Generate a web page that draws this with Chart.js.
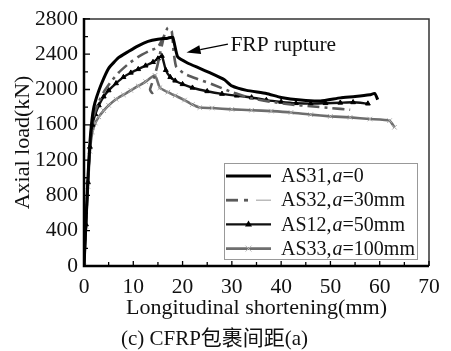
<!DOCTYPE html>
<html><head><meta charset="utf-8">
<script src="https://cdn.jsdelivr.net/npm/chart.js@4.4.0/dist/chart.umd.min.js"></script>
<style>html,body{margin:0;padding:0;background:#fff;}#wrap{width:451px;height:351px;}</style>
</head><body><div id="wrap"><canvas id="c" width="451" height="351"></canvas></div>
<script>
// ---- data ----
const xMajorTicks = [0,10,20,30,40,50,60,70];
const xMinorTicks = [5,15,25,35,45,55,65];
const yMajorTicks = [0,400,800,1200,1600,2000,2400,2800];
const yMinorTicks = [200,600,1000,1400,1800,2200,2600];

const as31X = [0,0.4,0.8,1.2,1.6,2.0,2.6,3.5,5,7,9,11,13,15,17,18,19,21,23.5,25.5,28.5,30,33,37,40,44,48,52,55,58,59,59.6];
const as31Y = [0,500,1000,1400,1650,1800,1920,2060,2240,2360,2430,2495,2545,2570,2582,2592,2370,2300,2240,2190,2110,2040,1990,1955,1910,1880,1870,1905,1920,1940,1955,1885];

const as32X = [0,0.4,0.8,1.2,1.7,2.3,3,4,5.5,7,9,11,13,15,16.2,17,17.8,18.2,18.7,20.3,23,26,30,34,38,42,46,50,54, null,16.3,15.6,14.8,14,13.4,13.8,14.8];
const as32Y = [0,480,980,1380,1640,1760,1860,1970,2090,2190,2290,2370,2430,2480,2600,2700,2660,2420,2260,2180,2120,2060,1970,1900,1860,1830,1810,1790,1770, null,2620,2450,2250,2100,2000,1960,1990];

const as12X = [0,0.4,0.8,1.2,1.7,2.3,3,4,5,6.5,8,9.5,11,12.5,14,15,15.8,16.6,17.5,18.5,20,22,25,28,31,34,37,40,43,46,49,52,54.6,57.6];
const as12Y = [0,470,950,1350,1600,1720,1820,1920,1990,2070,2140,2190,2230,2270,2310,2350,2380,2220,2140,2100,2060,2020,1980,1950,1930,1910,1880,1860,1845,1840,1845,1850,1855,1840];

const as33X = [0,0.4,0.8,1.2,1.7,2.3,3,4,5,6.5,8,9.5,11,12.5,14.4,15.4,17,18.5,20.4,22,23.5,26,30,34,38,42,46,50,54,58,62,63];
const as33Y = [0,450,900,1300,1520,1620,1690,1760,1820,1890,1940,1990,2040,2090,2160,2020,1970,1930,1880,1830,1795,1790,1775,1765,1755,1740,1715,1695,1684,1665,1647,1572];

const seriesLabels = ['AS31,a=0','AS32,a=30mm','AS12,a=50mm','AS33,a=100mm'];
const annotationText = 'FRP rupture';
const arrowTip = [20.8, 2420];
const arrowTail = [29.2, 2515];
const annotationAnchor = [29.7, 2432];

const FONT = '"Liberation Serif","Times New Roman","Noto Sans CJK SC",serif';

function pts(xs, ys){ return xs.map((x,i)=> (x===null ? {x: NaN, y: null} : {x:x, y:ys[i]})); }

const framePlugin = {
  id:'frame',
  afterDatasetsDraw(chart){
    const {ctx, chartArea:a, scales:{x, y}} = chart;
    ctx.save();
    ctx.strokeStyle = '#333'; ctx.lineWidth = 1.5;
    ctx.beginPath(); ctx.moveTo(a.left, a.top); ctx.lineTo(a.right, a.top); ctx.lineTo(a.right, a.bottom); ctx.stroke();
    ctx.strokeStyle = '#000'; ctx.lineWidth = 2.5;
    ctx.beginPath(); ctx.moveTo(a.left, a.top-1); ctx.lineTo(a.left, a.bottom); ctx.lineTo(a.right, a.bottom); ctx.stroke();
    ctx.lineWidth = 1.3;
    ctx.beginPath();
    xMajorTicks.forEach(v=>{const p=x.getPixelForValue(v); ctx.moveTo(p,a.bottom); ctx.lineTo(p,a.bottom-5);});
    xMinorTicks.forEach(v=>{const p=x.getPixelForValue(v); ctx.moveTo(p,a.bottom); ctx.lineTo(p,a.bottom-4);});
    yMajorTicks.forEach(v=>{const p=y.getPixelForValue(v); ctx.moveTo(a.left,p); ctx.lineTo(a.left+6,p);});
    yMinorTicks.forEach(v=>{const p=y.getPixelForValue(v); ctx.moveTo(a.left,p); ctx.lineTo(a.left+4,p);});
    ctx.stroke();

    // annotation arrow
    const tx = x.getPixelForValue(arrowTip[0]), ty = y.getPixelForValue(arrowTip[1]);
    const sx = x.getPixelForValue(arrowTail[0]), sy = y.getPixelForValue(arrowTail[1]);
    const ang = Math.atan2(ty-sy, tx-sx);
    const hl = 14, hw = 4.5;
    const bx = tx - hl*Math.cos(ang), by = ty - hl*Math.sin(ang);
    ctx.strokeStyle='#000'; ctx.lineWidth=1.3;
    ctx.beginPath(); ctx.moveTo(sx,sy); ctx.lineTo(bx,by); ctx.stroke();
    ctx.fillStyle='#000';
    ctx.beginPath(); ctx.moveTo(tx,ty);
    ctx.lineTo(bx + hw*Math.sin(ang), by - hw*Math.cos(ang));
    ctx.lineTo(bx - hw*Math.sin(ang), by + hw*Math.cos(ang));
    ctx.closePath(); ctx.fill();
    ctx.font = '21.5px ' + FONT; ctx.fillStyle='#111'; ctx.textBaseline='alphabetic'; ctx.textAlign='left';
    ctx.fillText(annotationText, x.getPixelForValue(annotationAnchor[0]), y.getPixelForValue(annotationAnchor[1]));

    // legend
    const L = a.right - 205, T = a.bottom - 103, W = 193, H = 96;
    ctx.fillStyle='#fff'; ctx.fillRect(L,T,W,H);
    ctx.strokeStyle='#999'; ctx.lineWidth=1; ctx.strokeRect(L+0.5,T+0.5,W,H);
    const rowH = 24.2;
    chart.data.datasets.forEach((ds,i)=>{
      const cy = T + 13 + i*rowH;
      const x0 = L+2, x1 = L+47;
      ctx.save();
      ctx.strokeStyle = ds.borderColor; ctx.lineWidth = ds.borderWidth;
      if (i===1){
        ctx.lineWidth = 2.8;
        ctx.beginPath(); ctx.moveTo(x0,cy); ctx.lineTo(x0+12,cy); ctx.stroke();
        ctx.beginPath(); ctx.moveTo(x0+18,cy); ctx.lineTo(x0+22,cy); ctx.stroke();
        ctx.strokeStyle='#aaa'; ctx.lineWidth=1.2;
        ctx.beginPath(); ctx.moveTo(x0+30,cy); ctx.lineTo(x1,cy); ctx.stroke();
      } else {
        ctx.beginPath(); ctx.moveTo(x0,cy); ctx.lineTo(x1,cy); ctx.stroke();
      }
      const mx = (x0+x1)/2;
      if (i===2){
        ctx.fillStyle='#000'; ctx.beginPath(); ctx.moveTo(mx,cy-4); ctx.lineTo(mx+3.5,cy+2); ctx.lineTo(mx-3.5,cy+2); ctx.closePath(); ctx.fill();
      }
      if (i===3){
        ctx.strokeStyle='#bbb'; ctx.lineWidth=1; ctx.beginPath();
        ctx.moveTo(mx-3,cy-3); ctx.lineTo(mx+3,cy+3); ctx.moveTo(mx-3,cy+3); ctx.lineTo(mx+3,cy-3); ctx.stroke();
      }
      ctx.restore();
      const lab = ds.label; const k = lab.indexOf(',a');
      const p1 = lab.slice(0,k+1), p2 = 'a', p3 = lab.slice(k+2);
      let tx0 = L + 57;
      ctx.fillStyle='#111'; ctx.textBaseline='middle'; ctx.textAlign='left';
      ctx.font = '20px ' + FONT; ctx.fillText(p1, tx0, cy+1); tx0 += ctx.measureText(p1).width + 1;
      ctx.font = 'italic 20px ' + FONT; ctx.fillText(p2, tx0, cy+1); tx0 += ctx.measureText(p2).width;
      ctx.font = '20px ' + FONT; ctx.fillText(p3, tx0, cy+1);
    });
    ctx.restore();
  }
};

new Chart(document.getElementById('c'), {
  type:'line',
  data:{
    datasets:[
      {label:seriesLabels[0], data:pts(as31X,as31Y), borderColor:'#000', borderWidth:3, pointRadius:0, tension:0.15},
      {label:seriesLabels[1], data:pts(as32X,as32Y), borderColor:'#5a5a5a', borderWidth:2.6, borderDash:[12,5,3,5], pointRadius:0, tension:0.15},
      {label:seriesLabels[2], data:pts(as12X,as12Y), borderColor:'#111', borderWidth:2.4, pointStyle:'triangle', pointRadius:2.8, pointBackgroundColor:'#000', pointBorderColor:'#000', pointBorderWidth:1, tension:0.15},
      {label:seriesLabels[3], data:pts(as33X,as33Y), borderColor:'#6e6e6e', borderWidth:2.6, pointStyle:'crossRot', pointRadius:3.2, pointBorderColor:'#aaa', pointBorderWidth:1, tension:0.15}
    ]
  },
  options:{
    responsive:false, animation:false, devicePixelRatio:1,
    spanGaps:false,
    layout:{padding:{top:15, right:22, left:0, bottom:0}},
    plugins:{
      legend:{display:false}, tooltip:{enabled:false},
      title:{display:true, position:'bottom', text:'(c) CFRP包裹间距(a)', color:'#111',
        font:{family:FONT, size:21, weight:'normal'}, padding:{top:0, bottom:-1}}
    },
    scales:{
      x:{type:'linear', min:0, max:70,
        ticks:{stepSize:10, color:'#111', padding:8, font:{family:FONT, size:21.5}, maxRotation:0, callback:v=>String(v)},
        grid:{display:false, drawTicks:false}, border:{display:false},
        title:{display:true, text:'Longitudinal shortening(mm)', color:'#111', font:{family:FONT, size:22}, padding:{top:0,bottom:5}},
        afterFit(s){ s.height = 60.8; }
      },
      y:{type:'linear', min:0, max:2800,
        ticks:{stepSize:400, color:'#111', padding:6, font:{family:FONT, size:21.5}, callback:v=>String(v)},
        grid:{display:false, drawTicks:false}, border:{display:false},
        title:{display:true, text:'Axial load(kN)', color:'#111', font:{family:FONT, size:22}, padding:{top:10,bottom:0}},
        afterFit(s){ s.width = 84; }
      }
    }
  },
  plugins:[framePlugin]
});
</script></body></html>
